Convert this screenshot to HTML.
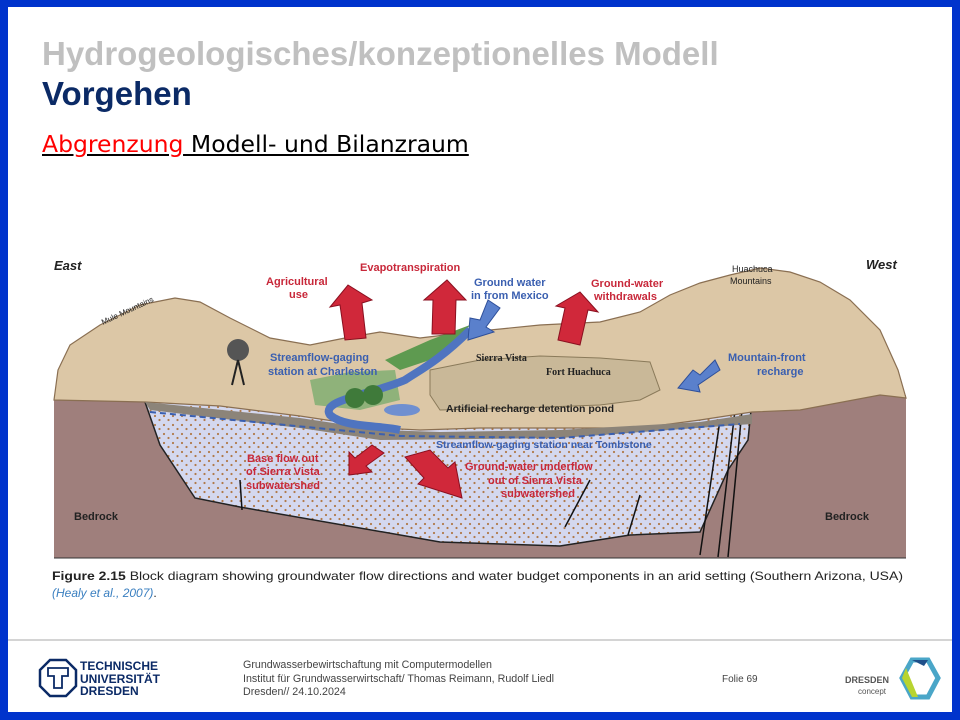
<!DOCTYPE html>
<html><head><meta charset="utf-8"><style>
html,body{margin:0;padding:0;}
body{width:960px;height:720px;background:#0033cc;position:relative;overflow:hidden;font-family:"Liberation Sans",sans-serif;}
#slide{position:absolute;left:8px;top:7px;width:944px;height:705px;background:#fff;}
.t1{position:absolute;left:42px;top:35px;font-size:33px;font-weight:bold;color:#c0c0c0;white-space:nowrap;}
.t2{position:absolute;left:42px;top:75px;font-size:33px;font-weight:bold;color:#0b2a66;}
.t3{position:absolute;left:42px;top:130px;font-family:"DejaVu Sans",sans-serif;font-size:23.5px;color:#000;text-decoration:underline;white-space:nowrap;}
.t3 span{color:#f00;}
.foot{position:absolute;left:243px;top:659px;font-size:10.7px;line-height:13.5px;color:#444;white-space:nowrap;}
</style></head><body>
<div id="slide"></div>
<div class="t1">Hydrogeologisches/konzeptionelles Modell</div>
<div class="t2">Vorgehen</div>
<div class="t3"><span>Abgrenzung</span> Modell- und Bilanzraum</div>
<svg style="position:absolute;left:0;top:0" width="960" height="720" viewBox="0 0 960 720">
<defs>
<pattern id="dots" width="9" height="9" patternUnits="userSpaceOnUse"><rect width="9" height="9" fill="#d4d8ef"/><circle cx="2" cy="2" r="1.1" fill="#b07a4a"/><circle cx="6.5" cy="6" r="1.1" fill="#b07a4a"/></pattern>
</defs>
<rect x="54" y="395" width="852" height="163" fill="#9f7f7c"/>
<polygon points="145,402 160,445 195,498 240,507 440,542 560,546 630,535 700,532 728,470 748,440 752,400" fill="url(#dots)" stroke="#222" stroke-width="1.5"/>
<g stroke="#111" stroke-width="1.5" fill="none">
<line x1="720" y1="420" x2="700" y2="555"/><line x1="735" y1="410" x2="718" y2="557"/><line x1="742" y1="410" x2="728" y2="557"/>
<line x1="590" y1="480" x2="565" y2="527"/><line x1="640" y1="495" x2="628" y2="535"/>
<line x1="240" y1="480" x2="242" y2="510"/>
</g>
<path d="M54,400 L58,370 L70,345 L100,325 L140,305 L175,298 L200,302 L230,318 L270,338 L310,345 L345,338 L380,332 L420,338 L470,332 L540,325 L600,322 L640,312 L670,295 L700,283 L730,275 L760,268 L790,272 L820,282 L850,300 L880,330 L898,370 L906,398 L880,395 L800,410 L752,412 L700,420 L640,428 L560,428 L480,428 L420,430 L380,428 L300,416 L220,406 L145,402 Z" fill="#dcc7a6" stroke="#8a6f52" stroke-width="1.2"/>
<path d="M145,402 L300,418 L380,430 L440,432 L560,430 L700,422 L752,414 L752,424 L560,438 L380,440 L300,428 L150,410 Z" fill="#8c8479"/>
<polygon points="430,370 480,360 540,356 600,358 650,362 660,390 640,400 600,405 520,408 440,410 430,395" fill="#c9b898" stroke="#8a7a5a"/>
<polygon points="310,380 350,372 395,370 400,400 360,410 315,405" fill="#8fb27a"/>
<polygon points="385,360 430,340 470,325 445,355 400,370" fill="#5e9a50"/>
<path d="M470,330 C440,360 420,370 405,380 C370,395 320,400 330,415 C345,428 380,425 400,430" fill="none" stroke="#4f74c0" stroke-width="8"/>
<ellipse cx="402" cy="410" rx="18" ry="6" fill="#6f8fd0"/>
<circle cx="238" cy="350" r="11" fill="#555"/><line x1="238" y1="360" x2="232" y2="385" stroke="#222" stroke-width="2"/><line x1="238" y1="360" x2="244" y2="385" stroke="#222" stroke-width="2"/>
<circle cx="355" cy="398" r="10" fill="#3f7a3a"/><circle cx="373" cy="395" r="10" fill="#3f7a3a"/>
<g fill="#d0283a" stroke="#8a1020" stroke-width="1">
<polygon points="345,340 340,305 330,307 348,285 372,300 362,303 366,338"/>
<polygon points="432,334 433,300 424,300 447,280 466,300 456,300 455,334"/>
<polygon points="558,340 565,308 556,306 580,292 598,312 588,310 580,345"/>
<polygon points="372,445 355,458 349,452 349,475 372,472 366,466 384,453"/>
<polygon points="405,457 424,478 418,484 462,498 455,462 448,468 430,450"/>
</g>
<g fill="#5a80cc" stroke="#2e4f9a" stroke-width="1">
<polygon points="488,300 480,320 470,318 468,340 494,332 486,327 500,308"/>
<polygon points="715,360 700,375 693,370 678,388 700,392 698,385 720,370"/>
</g>
<path d="M150,412 L400,436 L560,438 L740,424" fill="none" stroke="#3a5fb0" stroke-width="2" stroke-dasharray="6,4"/>
<line x1="54" y1="558" x2="906" y2="558" stroke="#333" stroke-width="1"/>
<g font-family="Liberation Sans, sans-serif" font-weight="bold" font-size="11">
<text x="54" y="270" font-style="italic" font-size="13" fill="#222">East</text>
<text x="866" y="269" font-style="italic" font-size="13" fill="#222">West</text>
<text x="360" y="271" fill="#c8283a">Evapotranspiration</text>
<text x="266" y="285" fill="#c8283a">Agricultural</text><text x="289" y="298" fill="#c8283a">use</text>
<text x="474" y="286" fill="#3a5fb0">Ground water</text><text x="471" y="299" fill="#3a5fb0">in from Mexico</text>
<text x="591" y="287" fill="#c8283a">Ground-water</text><text x="594" y="300" fill="#c8283a">withdrawals</text>
<text x="270" y="361" fill="#3a5fb0">Streamflow-gaging</text><text x="268" y="375" fill="#3a5fb0">station at Charleston</text>
<text x="728" y="361" fill="#3a5fb0">Mountain-front</text><text x="757" y="375" fill="#3a5fb0">recharge</text>
<text x="476" y="361" font-family="Liberation Serif, serif" font-size="10" fill="#222">Sierra Vista</text>
<text x="546" y="375" font-family="Liberation Serif, serif" font-size="10" fill="#222">Fort Huachuca</text>
<text x="446" y="412" font-size="10.5" fill="#222">Artificial recharge detention pond</text>
<text x="436" y="448" font-size="10.5" fill="#3a5fb0">Streamflow-gaging station near Tombstone</text>
<text x="247" y="462" fill="#c8283a">Base flow out</text><text x="246" y="475" fill="#c8283a">of Sierra Vista</text><text x="246" y="489" fill="#c8283a">subwatershed</text>
<text x="465" y="470" fill="#c8283a">Ground-water underflow</text><text x="488" y="484" fill="#c8283a">out of Sierra Vista</text><text x="501" y="497" fill="#c8283a">subwatershed</text>
<text x="74" y="520" fill="#222">Bedrock</text><text x="825" y="520" fill="#222">Bedrock</text>
<text x="103" y="325" font-size="8" font-weight="normal" fill="#222" transform="rotate(-25 103 325)">Mule Mountains</text>
<text x="732" y="272" font-size="9" font-weight="normal" fill="#222">Huachuca</text><text x="730" y="284" font-size="9" font-weight="normal" fill="#222">Mountains</text>
</g>
<text x="52" y="580" font-family="Liberation Sans, sans-serif" font-size="12" fill="#222" textLength="851" lengthAdjust="spacingAndGlyphs"><tspan font-weight="bold">Figure 2.15</tspan> Block diagram showing groundwater flow directions and water budget components in an arid setting (Southern Arizona, USA)</text>
<text x="52" y="597" font-family="Liberation Sans, sans-serif" font-size="12" fill="#3a7fc0" font-style="italic">(Healy et al., 2007)<tspan fill="#222" font-style="normal">.</tspan></text>
<line x1="8" y1="640" x2="952" y2="640" stroke="#aaa" stroke-width="1"/>
<polygon points="50,660 66,660 76,670 76,686 66,696 50,696 40,686 40,670" fill="none" stroke="#0b2a66" stroke-width="2.5"/>
<path d="M48,668 H68 V676 H62 V688 H54 V676 H48 Z" fill="none" stroke="#0b2a66" stroke-width="1.8"/>
<g font-family="Liberation Sans, sans-serif" font-weight="bold" font-size="12" fill="#0b2a66"><text x="80" y="670">TECHNISCHE</text><text x="80" y="683">UNIVERSITÄT</text><text x="80" y="695">DRESDEN</text></g>
<text x="722" y="682" font-family="Liberation Sans, sans-serif" font-size="10" fill="#444">Folie 69</text>
<text x="845" y="683" font-family="Liberation Sans, sans-serif" font-size="9" font-weight="bold" fill="#555">DRESDEN</text>
<text x="858" y="694" font-family="Liberation Sans, sans-serif" font-size="8" fill="#555">concept</text>
<polygon points="912,660 928,660 938,678 928,697 912,697 902,678" fill="none" stroke="#4aa6c8" stroke-width="5"/>
<polygon points="906,668 902,678 912,697 918,697" fill="#b8d430"/>
<polygon points="912,660 928,660 924,666" fill="#1f4f8a"/>
</svg>
<div class="foot">Grundwasserbewirtschaftung mit Computermodellen<br>Institut für Grundwasserwirtschaft/ Thomas Reimann, Rudolf Liedl<br>Dresden// 24.10.2024</div>
</body></html>
